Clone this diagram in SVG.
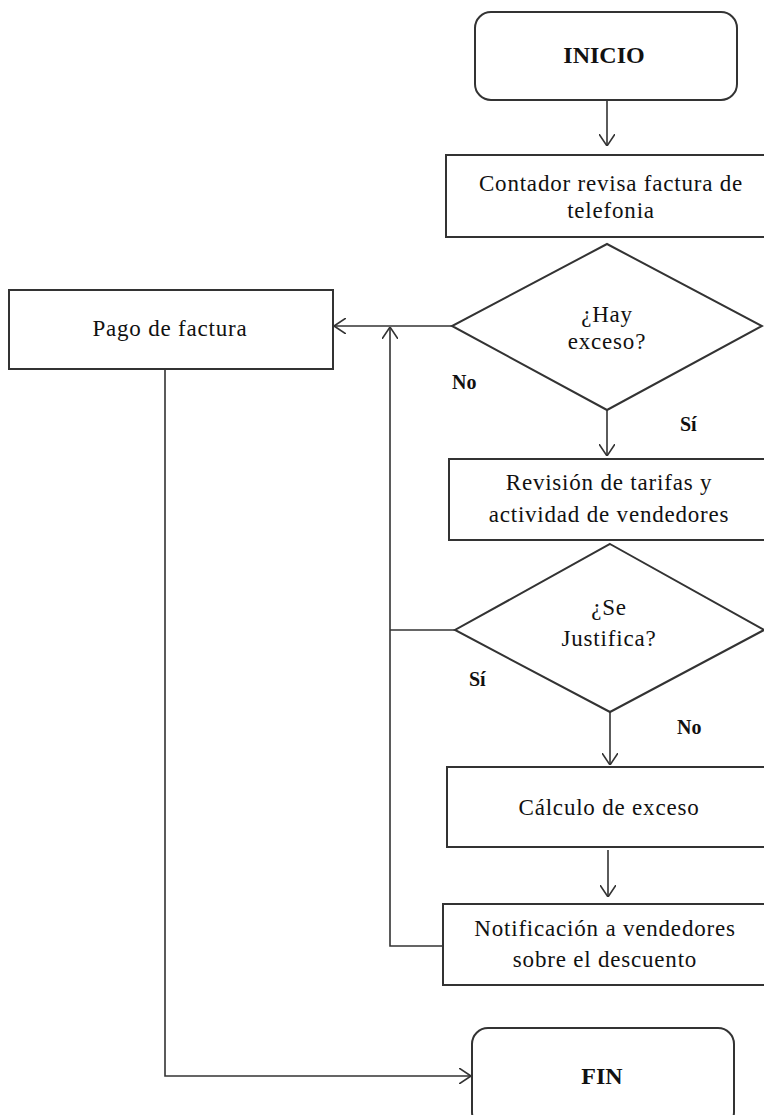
<svg xmlns="http://www.w3.org/2000/svg" width="764" height="1115" viewBox="0 0 764 1115">
  <style>
    .box { fill: #ffffff; stroke: #333333; stroke-width: 2; }
    .line { fill: none; stroke: #333333; stroke-width: 1.6; }
    .txt { font-family: "Liberation Serif", "Times New Roman", serif; font-size: 23px; letter-spacing: 0.8px; fill: #111111; text-anchor: middle; }
    .bold { font-family: "Liberation Serif", "Times New Roman", serif; font-size: 24px; font-weight: bold; fill: #111111; text-anchor: middle; }
    .lbl { font-family: "Liberation Serif", "Times New Roman", serif; font-size: 20px; font-weight: bold; fill: #111111; }
  </style>
  <defs>
    <marker id="open" viewBox="0 0 12 16" refX="12" refY="8" markerWidth="12" markerHeight="16" markerUnits="userSpaceOnUse" orient="auto">
      <path d="M0,0 L12,8 L0,16" fill="none" stroke="#333333" stroke-width="1.6"/>
    </marker>
  </defs>
  <rect width="764" height="1115" fill="#ffffff"/>

  <!-- connectors -->
  <g id="connectors">
    <line class="line" x1="607" y1="100" x2="607" y2="146" marker-end="url(#open)"/>
    <line class="line" x1="452" y1="326" x2="334" y2="326" marker-end="url(#open)"/>
    <polyline class="line" points="443,946 390,946 390,327" marker-end="url(#open)"/>
    <line class="line" x1="455" y1="630" x2="390" y2="630"/>
    <line class="line" x1="607" y1="410" x2="607" y2="456" marker-end="url(#open)"/>
    <line class="line" x1="610" y1="712" x2="610" y2="765" marker-end="url(#open)"/>
    <line class="line" x1="608" y1="850" x2="608" y2="897" marker-end="url(#open)"/>
    <polyline class="line" points="165,369 165,1076 471,1076" marker-end="url(#open)"/>
  </g>

  <!-- start -->
  <g id="inicio">
    <rect class="box" x="475" y="12" width="262" height="88" rx="16"/>
    <text class="bold" x="604" y="63">INICIO</text>
  </g>

  <g id="revisa-factura">
    <rect class="box" x="446" y="155" width="330" height="82"/>
    <text class="txt" x="611" y="191">Contador revisa factura de</text>
    <text class="txt" x="611" y="218">telefonia</text>
  </g>

  <g id="hay-exceso">
    <polygon class="box" points="607,244 762,326 607,410 452,326"/>
    <text class="txt" x="607" y="322">¿Hay</text>
    <text class="txt" x="607" y="349">exceso?</text>
  </g>

  <g id="pago">
    <rect class="box" x="9" y="290" width="324" height="79"/>
    <text class="txt" x="170" y="336">Pago de factura</text>
  </g>

  <g id="revision">
    <rect class="box" x="449" y="459" width="330" height="81"/>
    <text class="txt" x="609" y="490">Revisión de tarifas y</text>
    <text class="txt" x="609" y="522">actividad de vendedores</text>
  </g>

  <g id="se-justifica">
    <polygon class="box" points="610,544 764,630 610,712 455,630"/>
    <text class="txt" x="609" y="615">¿Se</text>
    <text class="txt" x="609" y="646">Justifica?</text>
  </g>

  <g id="calculo">
    <rect class="box" x="447" y="767" width="330" height="80"/>
    <text class="txt" x="609" y="815">Cálculo de exceso</text>
  </g>

  <g id="notificacion">
    <rect class="box" x="443" y="904" width="330" height="81"/>
    <text class="txt" x="605" y="936">Notificación a vendedores</text>
    <text class="txt" x="605" y="967">sobre el descuento</text>
  </g>

  <g id="fin">
    <rect class="box" x="472" y="1028" width="262" height="100" rx="16"/>
    <text class="bold" x="602" y="1084">FIN</text>
  </g>

  <!-- branch labels -->
  <g id="labels">
    <text class="lbl" x="452" y="389">No</text>
    <text class="lbl" x="680" y="431">Sí</text>
    <text class="lbl" x="469" y="686">Sí</text>
    <text class="lbl" x="677" y="734">No</text>
  </g>
</svg>
